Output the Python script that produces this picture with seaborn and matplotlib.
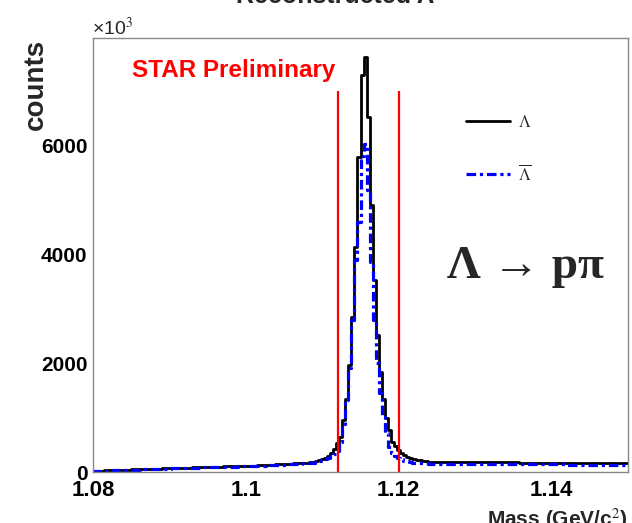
import numpy as np
import pandas as pd
import matplotlib
matplotlib.use('Agg')
import matplotlib.pyplot as plt
import seaborn as sns
from matplotlib.ticker import MultipleLocator
import warnings
warnings.filterwarnings('ignore')

# binning of the mass histograms (GeV/c^2)
bin_lo = 1.0798
bin_w = 0.0004
n_bins = 176

# counts per bin (x10^3), Lambda
lam = [20, 22, 24, 26, 28, 30, 33, 35, 37, 38,
       40, 42, 44, 46, 48, 50, 52, 54, 56, 58,
       60, 62, 64, 65, 67, 69, 71, 73, 75, 77,
       79, 80, 82, 84, 86, 88, 90, 92, 94, 96,
       97, 99, 100, 102, 103, 105, 106, 107, 108, 110,
       112, 114, 117, 119, 122, 124, 127, 130, 132, 135,
       138, 141, 144, 147, 150, 153, 157, 160, 164, 167,
       170, 178, 188, 200, 215, 235, 262, 300, 350, 430,
       530, 650, 950, 1340, 1960, 2850, 4130, 5790, 7290, 7620,
       6520, 4900, 3520, 2510, 1840, 1340, 990, 770, 560, 470,
       400, 350, 310, 280, 258, 240, 226, 215, 207, 200,
       192, 190, 188, 187, 186, 185, 185, 184, 184, 183,
       183, 182, 182, 181, 181, 180, 180, 179, 179, 178,
       178, 178, 177, 177, 176, 176, 176, 175, 175, 175,
       174, 174, 174, 173, 173, 173, 172, 172, 172, 171,
       171, 171, 170, 170, 170, 169, 169, 169, 168, 168,
       168, 167, 167, 167, 166, 166, 166, 165, 165, 165,
       164, 164, 164, 163, 163, 163]

# counts per bin (x10^3), anti-Lambda
alam = [14, 16, 18, 20, 22, 24, 26, 28, 30, 32,
        34, 36, 38, 40, 42, 44, 46, 48, 50, 52,
        54, 56, 57, 59, 61, 63, 65, 67, 68, 70,
        72, 74, 75, 77, 79, 81, 83, 84, 86, 88,
        90, 91, 93, 94, 96, 97, 99, 100, 102, 103,
        105, 107, 109, 111, 113, 116, 118, 121, 123, 126,
        128, 131, 134, 137, 140, 143, 146, 150, 153, 157,
        160, 166, 174, 184, 196, 212, 232, 258, 290, 330,
        380, 560, 880, 1320, 1910, 2790, 3890, 4590, 5800, 6030,
        5170, 3860, 2790, 2000, 1450, 1010, 715, 460, 350, 300,
        262, 232, 210, 194, 182, 174, 168, 163, 160, 157,
        156, 155, 154, 153, 152, 152, 151, 151, 150, 150,
        149, 149, 149, 148, 148, 147, 147, 147, 146, 146,
        146, 145, 145, 145, 144, 144, 144, 143, 143, 143,
        142, 142, 142, 141, 141, 141, 140, 140, 140, 139,
        139, 139, 138, 138, 138, 137, 137, 137, 136, 136,
        136, 135, 135, 135, 134, 134, 134, 133, 133, 133,
        132, 132, 132, 131, 131, 131]

# mass window cuts
cuts = [1.112, 1.120]
cut_height = 7000

centers = bin_lo + bin_w * (np.arange(n_bins) + 0.5)
df = pd.DataFrame({'mass': centers, 'lam': lam, 'alam': alam})
brange = (bin_lo, bin_lo + bin_w * n_bins)

sns.set_theme(style='white')
plt.rcParams['font.family'] = ['Liberation Sans', 'DejaVu Sans']
plt.rcParams['mathtext.fontset'] = 'stix'

fig = plt.figure(figsize=(6.32, 5.23), dpi=100)
ax = fig.add_axes([93 / 632, 1 - 472 / 523, 535 / 632, 434 / 523])

sns.histplot(data=df, x='mass', weights='lam', bins=n_bins, binrange=brange,
             element='step', fill=False, color='black', linewidth=2.0, ax=ax,
             label=r'$\Lambda$')
sns.histplot(data=df, x='mass', weights='alam', bins=n_bins, binrange=brange,
             element='step', fill=False, color='#0000ff', linewidth=2.3, ax=ax,
             linestyle=(0, (3, 1.2, 1, 1.2)), label=r'$\overline{\Lambda}$')

ax.vlines(cuts, 0, cut_height, color='#ff0000', linewidth=1.6)

ax.set_xlim(1.08, 1.15)
ax.set_ylim(0, 7970)
ax.set_xlabel('')
ax.set_ylabel('')

ax.xaxis.set_minor_locator(MultipleLocator(0.005))
ax.yaxis.set_minor_locator(MultipleLocator(500))
ax.set_xticks([1.08, 1.1, 1.12, 1.14])
ax.set_xticklabels(['1.08', '1.1', '1.12', '1.14'])
ax.set_yticks([0, 2000, 4000, 6000])
ax.set_yticklabels(['0', '2000', '4000', '6000'])
ax.tick_params(axis='both', which='both', direction='in', colors='#555555',
               labelcolor='black', width=1)
ax.tick_params(axis='x', which='major', length=9, pad=6, labelsize=16)
ax.tick_params(axis='x', which='minor', length=5)
ax.tick_params(axis='y', which='major', length=6, pad=4, labelsize=15)
ax.tick_params(axis='y', which='minor', length=6)
for lab in ax.get_xticklabels() + ax.get_yticklabels():
    lab.set_fontweight('bold')
for sp in ax.spines.values():
    sp.set_color('#888888')
    sp.set_linewidth(1)

leg = ax.legend(loc='upper left', bbox_to_anchor=(0.682, 0.845), frameon=False,
                fontsize=12, handlelength=2.6, handletextpad=0.5,
                labelspacing=2.0, borderpad=0)

ax.text(0.072, 0.952, 'STAR Preliminary', transform=ax.transAxes, color='#ff0000',
        fontsize=17.5, fontweight='bold', va='top', ha='left')
ax.text(0.662, 0.448, 'Λ → pπ', transform=ax.transAxes, fontsize=34,
        fontweight='bold', family=['Liberation Serif', 'DejaVu Serif'],
        va='baseline', ha='left')

fig.text(335 / 632, 1 - 3 / 523, 'Reconstructed Λ', fontsize=18,
         fontweight='bold', ha='center', va='baseline')
fig.text(92 / 632, 1 - 35 / 523, '×10$^{3}$', fontsize=14, ha='left', va='baseline')
fig.text(36 / 632, 1 - 39 / 523, 'counts', fontsize=20, fontweight='bold',
         rotation=90, ha='center', va='top')
fig.text(628 / 632, 1 - 507 / 523, 'Mass (GeV/c$^{2}$)', fontsize=15,
         fontweight='bold', ha='right', va='top')

fig.savefig('out.png', dpi=100)
